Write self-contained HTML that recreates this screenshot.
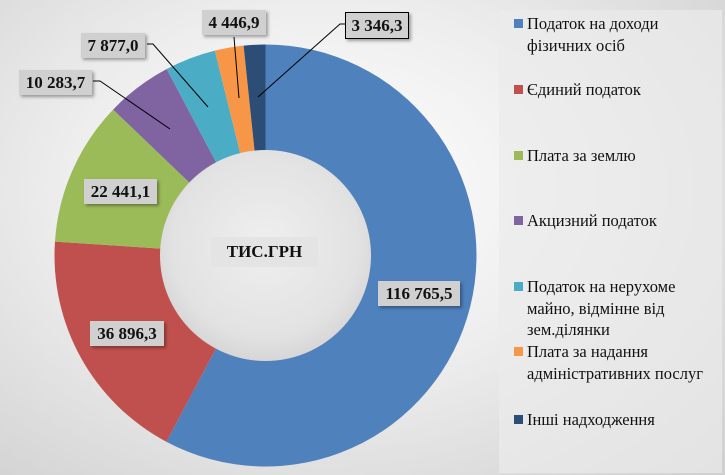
<!DOCTYPE html>
<html><head><meta charset="utf-8"><style>
html,body{margin:0;padding:0}
*{font-family:"Liberation Serif","Noto Serif CJK SC","DejaVu Serif",serif}
body{width:725px;height:475px;overflow:hidden;background:radial-gradient(ellipse at 45% 40%,#ffffff 0%,#eeeeee 45%,#cfcfcf 100%);position:relative}
.lbl{position:absolute;background:#d0d0d0;font-weight:bold;font-size:17px;line-height:25px;text-align:center;box-shadow:2px 2px 3px rgba(0,0,0,.35);color:#111;white-space:nowrap}
#leg{position:absolute;left:499px;top:10px;width:223px;height:463px;background:rgba(235,235,235,.7)}
.li{position:absolute;left:28px;font-size:16.5px;line-height:21.7px;color:#111;white-space:nowrap}
.sq{position:absolute;left:-13px;top:6px;width:9px;height:9px}
</style></head><body>
<svg id="s" width="725" height="475" style="position:absolute;left:0;top:0">
<defs><radialGradient id="ig" cx="50%" cy="45%" r="55%"><stop offset="0" stop-color="#efefef"/><stop offset="0.8" stop-color="#e2e2e2"/><stop offset="1" stop-color="#d6d6d6"/></radialGradient></defs>
<g id="g"></g>
<circle cx="265.5" cy="255.5" r="105.5" fill="url(#ig)"/>
<g stroke="#000" stroke-width="1" fill="none">
<polyline points="93,81 100,81 170,129"/>
<polyline points="147,44 153,44 208,107"/>
<polyline points="234,37 239,98"/>
<polyline points="345,24 340,24 258,97"/>
</g>
</svg>
<div class="lbl" style="left:378px;top:281px;width:82px">116 765,5</div>
<div class="lbl" style="left:90px;top:321px;width:74px">36 896,3</div>
<div class="lbl" style="left:84px;top:179px;width:73px">22 441,1</div>
<div class="lbl" style="left:19px;top:70px;width:73px">10 283,7</div>
<div class="lbl" style="left:81px;top:33px;width:64px">7 877,0</div>
<div class="lbl" style="left:202px;top:10px;width:64px">4 446,9</div>
<div class="lbl" style="left:345px;top:12px;width:62px;border:1px solid #000">3 346,3</div>
<div class="lbl" style="left:211px;top:237px;width:107px;height:30px;line-height:30px;background:#e4e4e4;box-shadow:none">ТИС.ГРН</div>
<div id="leg">
<div class="li" style="top:3px"><span class="sq" style="background:#4f81bd"></span>Податок на доходи<br>фізичних осіб</div>
<div class="li" style="top:69px"><span class="sq" style="background:#c0504d"></span>Єдиний податок</div>
<div class="li" style="top:135px"><span class="sq" style="background:#9bbb59"></span>Плата за землю</div>
<div class="li" style="top:200px"><span class="sq" style="background:#8064a2"></span>Акцизний податок</div>
<div class="li" style="top:266px"><span class="sq" style="background:#4bacc6"></span>Податок на нерухоме<br>майно, відмінне від<br>зем.ділянки</div>
<div class="li" style="top:331px"><span class="sq" style="background:#f79646"></span>Плата за надання<br>адміністративних послуг</div>
<div class="li" style="top:399px"><span class="sq" style="background:#2c4d75"></span>Інші надходження</div>
</div>
<script>
var v=[116765.5,36896.3,22441.1,10283.7,7877.0,4446.9,3346.3],c=["#4f81bd","#c0504d","#9bbb59","#8064a2","#4bacc6","#f79646","#2c4d75"];
var t=v.reduce(function(a,b){return a+b},0),a=0,cx=265.5,cy=255.5,R=211,g=document.getElementById("g"),h="";
v.forEach(function(x,i){var b=a+x/t*2*Math.PI;var x1=cx+R*Math.sin(a),y1=cy-R*Math.cos(a),x2=cx+R*Math.sin(b),y2=cy-R*Math.cos(b);
h+='<path d="M'+cx+','+cy+' L'+x1+','+y1+' A'+R+','+R+' 0 '+((b-a)>Math.PI?1:0)+' 1 '+x2+','+y2+' Z" fill="'+c[i]+'"/>';a=b;});
g.innerHTML=h;
</script>
</body></html>
